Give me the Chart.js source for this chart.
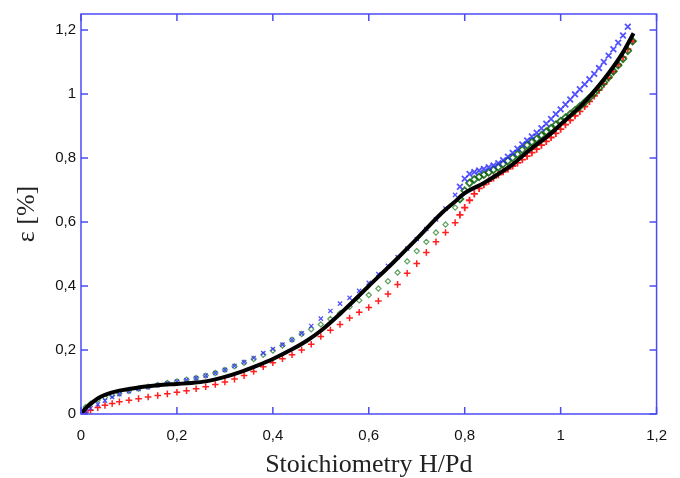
<!DOCTYPE html>
<html><head><meta charset="utf-8">
<script src="https://cdn.jsdelivr.net/npm/chart.js@4.4.1/dist/chart.umd.min.js"></script>
<style>html,body{margin:0;padding:0;background:#fff}canvas{display:block}</style>
</head><body>
<canvas id="c" width="680" height="478"></canvas>
<script>
// H/Pd stoichiometry values shared by the three measured series
const hpd = [
  0, 0.01, 0.02, 0.035, 0.05, 0.065, 0.08, 0.1, 0.12, 0.14,
  0.16, 0.18, 0.2, 0.22, 0.24, 0.26, 0.28, 0.3, 0.32, 0.34,
  0.36, 0.38, 0.4, 0.42, 0.44, 0.46, 0.48, 0.5, 0.52, 0.54,
  0.56, 0.58, 0.6, 0.62, 0.64, 0.66, 0.68, 0.7, 0.72, 0.74,
  0.76, 0.78, 0.79, 0.8, 0.81, 0.82, 0.83, 0.84, 0.85, 0.86,
  0.87, 0.88, 0.89, 0.9, 0.91, 0.92, 0.93, 0.94, 0.95, 0.96,
  0.97, 0.98, 0.99, 1.0, 1.01, 1.02, 1.03, 1.04, 1.05, 1.06,
  1.07, 1.08, 1.09, 1.1, 1.11, 1.12, 1.13, 1.14, 1.15
];
const blueEps = [
  0, 0.008, 0.018, 0.03, 0.042, 0.053, 0.062, 0.071, 0.078, 0.084,
  0.09, 0.096, 0.101, 0.106, 0.112, 0.12, 0.128, 0.138, 0.15, 0.162,
  0.175, 0.19, 0.203, 0.217, 0.232, 0.252, 0.275, 0.298, 0.322, 0.345,
  0.363, 0.385, 0.41, 0.437, 0.463, 0.49, 0.517, 0.547, 0.578, 0.608,
  0.642, 0.685, 0.71, 0.735, 0.75, 0.756, 0.761, 0.766, 0.771, 0.777,
  0.784, 0.793, 0.804, 0.816, 0.829, 0.842, 0.855, 0.867, 0.879, 0.893,
  0.907, 0.922, 0.937, 0.952, 0.967, 0.983, 0.999, 1.015, 1.03, 1.046,
  1.063, 1.081, 1.1, 1.12, 1.14, 1.16, 1.183, 1.21, null
];
const greenEps = [
  0, 0.022, 0.032, 0.044, 0.052, 0.058, 0.064, 0.072, 0.079, 0.085,
  0.091, 0.097, 0.102, 0.107, 0.113, 0.12, 0.128, 0.138, 0.149, 0.16,
  0.172, 0.185, 0.198, 0.214, 0.232, 0.25, 0.265, 0.28, 0.297, 0.315,
  0.335, 0.355, 0.372, 0.392, 0.415, 0.442, 0.477, 0.509, 0.538, 0.567,
  0.592, 0.645, 0.672, 0.698, 0.722, 0.733, 0.741, 0.748, 0.755, 0.763,
  0.771, 0.781, 0.791, 0.801, 0.812, 0.826, 0.84, 0.85, 0.86, 0.871,
  0.882, 0.893, 0.904, 0.915, 0.926, 0.937, 0.949, 0.961, 0.974, 0.988,
  1.003, 1.019, 1.036, 1.053, 1.071, 1.09, 1.11, 1.135, 1.165
];
const redEps = [
  0, 0.006, 0.012, 0.02, 0.027, 0.033, 0.038, 0.043, 0.048, 0.053,
  0.058, 0.063, 0.068, 0.073, 0.079, 0.085, 0.092, 0.1, 0.109, 0.12,
  0.133, 0.148, 0.16, 0.173, 0.185, 0.2, 0.218, 0.242, 0.262, 0.28,
  0.3, 0.318, 0.333, 0.353, 0.375, 0.405, 0.44, 0.47, 0.505, 0.538,
  0.567, 0.598, 0.622, 0.645, 0.668, 0.688, 0.705, 0.717, 0.728, 0.738,
  0.748, 0.757, 0.766, 0.775, 0.785, 0.795, 0.806, 0.817, 0.828, 0.84,
  0.852, 0.864, 0.877, 0.89, 0.904, 0.918, 0.932, 0.946, 0.961, 0.977,
  0.994, 1.012, 1.031, 1.05, 1.07, 1.092, 1.115, 1.14, 1.165
];
// solid black curve
const solidHpd = [0, 0.01, 0.025, 0.04, 0.06, 0.08, 0.1, 0.13, 0.16, 0.2, 0.23, 0.26, 0.3, 0.33, 0.37, 0.4, 0.44, 0.47, 0.5, 0.55, 0.6, 0.65, 0.7, 0.75, 0.78, 0.8, 0.84, 0.87, 0.9, 0.935, 0.98, 1.0, 1.05, 1.1, 1.13, 1.152];
const solidEps = [0, 0.018, 0.038, 0.053, 0.065, 0.073, 0.078, 0.085, 0.09, 0.094, 0.097, 0.102, 0.116, 0.13, 0.153, 0.172, 0.202, 0.228, 0.26, 0.327, 0.4, 0.472, 0.547, 0.625, 0.664, 0.69, 0.722, 0.75, 0.78, 0.825, 0.877, 0.905, 0.975, 1.065, 1.13, 1.19];

const xTicks = [0, 0.2, 0.4, 0.6, 0.8, 1, 1.2];
const yTicks = [0, 0.2, 0.4, 0.6, 0.8, 1, 1.2];

const pts = (xs, ys) => xs.map((x, i) => ({x: x, y: ys[i]})).filter(p => p.y !== null);
const fmt = v => String(Math.round(v * 10) / 10).replace('.', ',');
const AXIS = '#4b4bf5';
const dense = c => c.raw && c.raw.x > 0.785;

const frame = {
  id: 'frame',
  afterDraw(chart) {
    const {ctx, chartArea: a, scales: {x, y}} = chart;
    ctx.save();
    ctx.strokeStyle = AXIS;
    ctx.lineWidth = 1.5;
    ctx.strokeRect(a.left, a.top, a.right - a.left, a.bottom - a.top);
    const L = 7;
    ctx.beginPath();
    xTicks.forEach(v => {
      const px = x.getPixelForValue(v);
      ctx.moveTo(px, a.bottom); ctx.lineTo(px, a.bottom - L);
      ctx.moveTo(px, a.top); ctx.lineTo(px, a.top + L);
    });
    yTicks.forEach(v => {
      const py = y.getPixelForValue(v);
      ctx.moveTo(a.left, py); ctx.lineTo(a.left + L, py);
      ctx.moveTo(a.right, py); ctx.lineTo(a.right - L, py);
    });
    ctx.stroke();
    ctx.restore();
  }
};

new Chart(document.getElementById('c'), {
  type: 'scatter',
  data: {
    datasets: [
      {label: 'solid', data: pts(solidHpd, solidEps), showLine: true, borderColor: '#000', borderWidth: 4,
       pointRadius: 0, cubicInterpolationMode: 'monotone', order: 0},
      {label: 'blue', data: pts(hpd, blueEps), pointStyle: 'crossRot',
       pointRadius: c => dense(c) ? 4 : 3, borderWidth: c => dense(c) ? 1.8 : 1.3,
       borderColor: 'rgba(40,40,255,0.8)', backgroundColor: 'rgba(40,40,255,0.8)', order: 1},
      {label: 'green', data: pts(hpd, greenEps), pointStyle: 'rectRot',
       pointRadius: c => dense(c) ? 3.4 : 2.6, borderWidth: c => dense(c) ? 1.8 : 1.2,
       borderColor: c => dense(c) ? 'rgba(10,100,10,0.85)' : 'rgba(40,130,40,0.75)', backgroundColor: 'rgba(0,0,0,0)', order: 2},
      {label: 'red', data: pts(hpd, redEps), pointStyle: 'cross',
       pointRadius: c => dense(c) ? 3.6 : 3.3, borderWidth: c => dense(c) ? 1.8 : 1.5,
       borderColor: '#ff1f1f', backgroundColor: '#ff1f1f', order: 3}
    ]
  },
  options: {
    responsive: false,
    animation: false,
    devicePixelRatio: 1,
    layout: {padding: {left: 0, right: 14, top: 13, bottom: 0}},
    plugins: {legend: {display: false}, tooltip: {enabled: false}},
    scales: {
      x: {
        type: 'linear', min: 0, max: 1.2,
        afterBuildTicks: s => { s.ticks = xTicks.map(v => ({value: v})); },
        afterFit: s => { s.height = 64; },
        grid: {display: false, drawTicks: false},
        border: {display: false},
        ticks: {callback: fmt, color: '#111', padding: 13, maxRotation: 0, autoSkip: false,
                font: {family: 'Liberation Sans', size: 15}},
        title: {display: true, text: 'Stoichiometry H/Pd', color: '#222', padding: {top: 0, bottom: 0},
                font: {family: 'Liberation Serif', size: 26, lineHeight: 1}}
      },
      y: {
        type: 'linear', min: 0, max: 1.25,
        afterBuildTicks: s => { s.ticks = yTicks.map(v => ({value: v})); },
        afterFit: s => { s.width = 81; },
        grid: {display: false, drawTicks: false},
        border: {display: false},
        ticks: {callback: fmt, color: '#111', padding: 5, autoSkip: false,
                font: {family: 'Liberation Sans', size: 15}},
        title: {display: true, text: 'ε [%]', color: '#222', padding: {top: 14, bottom: 0},
                font: {family: 'Liberation Serif', size: 26, lineHeight: 1}}
      }
    }
  },
  plugins: [frame]
});
</script>
</body></html>
